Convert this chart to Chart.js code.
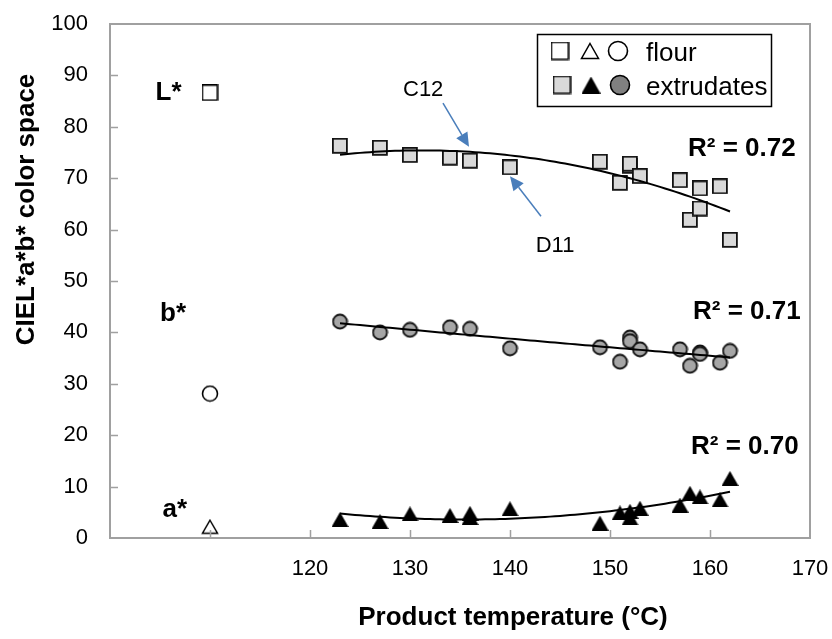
<!DOCTYPE html>
<html><head><meta charset="utf-8">
<script src="https://cdn.jsdelivr.net/npm/chart.js@4.4.1/dist/chart.umd.min.js"></script>
<style>html,body{margin:0;padding:0;background:#fff}#wrap{width:832px;height:639px;position:relative}</style>
</head><body><div id="wrap"><canvas id="c"></canvas></div>
<script>
// ---------- data ----------
const xTickValues = [100, 110, 120, 130, 140, 150, 160, 170];
const xTickLabels = ['', '', '120', '130', '140', '150', '160', '170'];
const yTickLabels = ['0','10','20','30','40','50','60','70','80','90','100'];

const flourTemp = [110];
const flourL = [86.6];
const flourB = [28.1];
const flourA = [2.2];

const tempL = [123, 127, 130, 134, 136, 140, 149, 151, 152, 152, 153, 157, 158, 159, 159, 161, 162];
const extL  = [76.3, 75.9, 74.5, 74.0, 73.4, 72.1, 73.2, 69.1, 72.4, 72.8, 70.4, 69.6, 61.9, 68.0, 64.1, 68.4, 58.0];

const tempB = [123, 127, 130, 134, 136, 140, 149, 151, 152, 152, 153, 157, 158, 159, 159, 161, 162];
const extB  = [42.1, 40.0, 40.5, 41.0, 40.7, 36.9, 37.1, 34.3, 39.0, 38.3, 36.7, 36.7, 33.5, 36.1, 35.8, 34.1, 36.4];

const tempA = [123, 127, 130, 134, 136, 136, 140, 149, 151, 152, 152, 153, 157, 158, 159, 161, 162];
const extA  = [3.6, 3.2, 4.7, 4.4, 4.8, 4.0, 5.7, 2.9, 4.9, 5.2, 3.9, 5.8, 6.4, 8.7, 8.0, 7.4, 11.6];

const r2Labels = ['R² = 0.72', 'R² = 0.71', 'R² = 0.70'];
const legendLabels = ['flour', 'extrudates'];
const xTitle = 'Product temperature (°C)';
const yTitle = 'CIEL*a*b* color space';

// ---------- helpers ----------
const FONT = "'Liberation Sans', Arial, Helvetica, sans-serif";
const AXIS_COLOR = '#a0a0a0';

function pts(xs, ys) { return xs.map((x, i) => ({x: x, y: ys[i]})); }

// least-squares 2nd-order polynomial trendline (as Excel's trendline)
function polyFit2(xs, ys) {
  const n = xs.length;
  let s = [0,0,0,0,0], t = [0,0,0];
  for (let i = 0; i < n; i++) {
    const x = xs[i], y = ys[i];
    let p = 1;
    for (let k = 0; k < 5; k++) { s[k] += p; if (k < 3) t[k] += p * y; p *= x; }
  }
  const M = [[s[0], s[1], s[2], t[0]], [s[1], s[2], s[3], t[1]], [s[2], s[3], s[4], t[2]]];
  for (let c = 0; c < 3; c++) {
    let piv = c;
    for (let r = c + 1; r < 3; r++) if (Math.abs(M[r][c]) > Math.abs(M[piv][c])) piv = r;
    [M[c], M[piv]] = [M[piv], M[c]];
    for (let r = 0; r < 3; r++) {
      if (r === c) continue;
      const f = M[r][c] / M[c][c];
      for (let k = c; k < 4; k++) M[r][k] -= f * M[c][k];
    }
  }
  return [M[0][3] / M[0][0], M[1][3] / M[1][1], M[2][3] / M[2][2]];
}
function trend(xs, ys) {
  const c = polyFit2(xs, ys);
  const lo = Math.min(...xs), hi = Math.max(...xs);
  const out = [];
  for (let x = lo; x <= hi + 1e-9; x += 0.5) out.push({x: x, y: c[0] + c[1] * x + c[2] * x * x});
  return out;
}

function mk(w, h, draw) {
  const cv = document.createElement('canvas');
  cv.width = w; cv.height = h;
  draw(cv.getContext('2d'));
  return cv;
}
function squareMarker(size, fill, stroke, lw) {
  const o = size + lw;
  return mk(Math.ceil(o), Math.ceil(o), ctx => {
    ctx.fillStyle = fill; ctx.strokeStyle = stroke; ctx.lineWidth = lw;
    ctx.beginPath(); ctx.rect(lw / 2, lw / 2, size, size); ctx.fill(); ctx.stroke();
  });
}
function circleMarker(r, fill, stroke, lw) {
  const o = Math.ceil(2 * r + lw + 1);
  return mk(o, o, ctx => {
    ctx.fillStyle = fill; ctx.strokeStyle = stroke; ctx.lineWidth = lw;
    ctx.beginPath(); ctx.arc(o / 2, o / 2, r, 0, Math.PI * 2); ctx.fill(); ctx.stroke();
  });
}
function triMarker(w, h, fill, stroke, lw) {
  const W = Math.ceil(w + lw * 2), H = Math.ceil(h + lw * 2);
  return mk(W, H, ctx => {
    ctx.fillStyle = fill; ctx.strokeStyle = stroke; ctx.lineWidth = lw; ctx.lineJoin = 'miter';
    ctx.beginPath();
    ctx.moveTo(W / 2, (H - h) / 2);
    ctx.lineTo(W / 2 + w / 2, (H + h) / 2);
    ctx.lineTo(W / 2 - w / 2, (H + h) / 2);
    ctx.closePath(); ctx.fill(); if (lw > 0) ctx.stroke();
  });
}

const mSqExt = squareMarker(14, '#d9d9d9', '#111', 1.8);
const mCiExt = circleMarker(7, '#a6a6a6', '#111', 1.8);
const mTrExt = triMarker(17, 15, '#000', '#000', 0);
const mSqFl = squareMarker(15, '#fff', '#000', 1.6);
const mCiFl = circleMarker(7.5, '#fff', '#000', 1.6);
const mTrFl = triMarker(15, 13, '#fff', '#000', 1.5);

function sc(ds, marker) {
  return Object.assign({
    pointStyle: marker, pointRadius: 8, pointHoverRadius: 8,
    showLine: false, borderColor: '#000', backgroundColor: '#000'
  }, ds);
}
function tl(data) {
  return {type: 'line', data: data, showLine: true, pointRadius: 0, borderColor: '#000',
    borderWidth: 2, tension: 0, fill: false, backgroundColor: '#000'};
}

// ---------- annotations (data units) ----------
const notes = [
  {text: 'L*', x: 104.55, y: 85.2, font: 'bold 26px ' + FONT},
  {text: 'b*', x: 105.0, y: 42.3, font: 'bold 26px ' + FONT},
  {text: 'a*', x: 105.25, y: 4.14, font: 'bold 26px ' + FONT},
  {text: r2Labels[0], x: 157.8, y: 74.3, font: 'bold 26px ' + FONT},
  {text: r2Labels[1], x: 158.3, y: 42.7, font: 'bold 26px ' + FONT},
  {text: r2Labels[2], x: 158.1, y: 16.3, font: 'bold 26px ' + FONT},
  {text: 'C12', x: 129.3, y: 85.9, font: '22px ' + FONT},
  {text: 'D11', x: 142.57, y: 55.6, font: '22px ' + FONT}
];
const arrows = [
  {x0: 133.3, y0: 84.6, x1: 135.9, y1: 76.1},
  {x0: 143.1, y0: 62.6, x1: 140.0, y1: 70.4}
];

const deco = {
  id: 'deco',
  afterDatasetsDraw(chart) {
    const {ctx, chartArea: a, scales: {x, y}} = chart;
    ctx.save();
    // plot frame top/right
    ctx.strokeStyle = AXIS_COLOR; ctx.lineWidth = 2;
    ctx.beginPath();
    ctx.moveTo(a.left, a.top); ctx.lineTo(a.right, a.top); ctx.lineTo(a.right, a.bottom);
    ctx.stroke();
    // inward ticks
    ctx.lineWidth = 1.5;
    ctx.beginPath();
    xTickValues.forEach(v => {
      const px = Math.round(x.getPixelForValue(v)) + 0.5;
      if (v === x.min || v === x.max) return;
      ctx.moveTo(px, a.bottom); ctx.lineTo(px, a.bottom - 8);
    });
    yTickLabels.forEach(t => {
      const v = +t;
      if (v === y.min || v === y.max) return;
      const py = Math.round(y.getPixelForValue(v)) + 0.5;
      ctx.moveTo(a.left, py); ctx.lineTo(a.left + 8, py);
    });
    ctx.stroke();
    ctx.restore();
  },
  afterDraw(chart) {
    const {ctx, chartArea: a, scales: {x, y}} = chart;
    ctx.save();
    // arrows
    ctx.strokeStyle = '#4a7ebb'; ctx.fillStyle = '#4a7ebb'; ctx.lineWidth = 1.5;
    arrows.forEach(ar => {
      const x0 = x.getPixelForValue(ar.x0), y0 = y.getPixelForValue(ar.y0);
      const x1 = x.getPixelForValue(ar.x1), y1 = y.getPixelForValue(ar.y1);
      const ang = Math.atan2(y1 - y0, x1 - x0);
      const L = 14, W = 6.5;
      const bx = x1 - L * Math.cos(ang), by = y1 - L * Math.sin(ang);
      ctx.beginPath(); ctx.moveTo(x0, y0); ctx.lineTo(bx, by); ctx.stroke();
      ctx.beginPath();
      ctx.moveTo(x1, y1);
      ctx.lineTo(bx + W * Math.sin(ang), by - W * Math.cos(ang));
      ctx.lineTo(bx - W * Math.sin(ang), by + W * Math.cos(ang));
      ctx.closePath(); ctx.fill();
    });
    // text notes
    ctx.fillStyle = '#000'; ctx.textAlign = 'left'; ctx.textBaseline = 'alphabetic';
    notes.forEach(n => {
      ctx.font = n.font;
      ctx.fillText(n.text, x.getPixelForValue(n.x), y.getPixelForValue(n.y));
    });
    // axis titles
    ctx.font = 'bold 26px ' + FONT;
    ctx.textAlign = 'center';
    ctx.fillText(xTitle, (a.left + a.right) / 2 + 53, a.bottom + 87);
    ctx.save();
    ctx.translate(a.left - 76.5, (a.top + a.bottom) / 2 - 71.5);
    ctx.rotate(-Math.PI / 2);
    ctx.fillText(yTitle, 0, 0);
    ctx.restore();
    // legend
    const lx = a.left + 427, ly = a.top + 10, lw = 234, lh = 72;
    ctx.strokeStyle = '#000'; ctx.lineWidth = 1.5;
    ctx.strokeRect(lx + 0.5, ly + 0.5, lw, lh);
    const rows = [
      {cy: ly + 17, marks: [
        squareMarker(17, '#fff', '#000', 1.6), triMarker(17, 15, '#fff', '#000', 1.5), circleMarker(9.5, '#fff', '#000', 1.6)
      ], xs: [lx + 23, lx + 53, lx + 81]},
      {cy: ly + 51, marks: [
        squareMarker(17, '#d9d9d9', '#000', 1.6), triMarker(19, 17, '#000', '#000', 0), circleMarker(9.5, '#808080', '#000', 1.6)
      ], xs: [lx + 25, lx + 54, lx + 83]}
    ];
    rows.forEach(r => r.marks.forEach((m, i) => ctx.drawImage(m, r.xs[i] - m.width / 2, r.cy - m.height / 2)));
    ctx.font = '26px ' + FONT; ctx.textAlign = 'left'; ctx.fillStyle = '#000';
    ctx.fillText(legendLabels[0], lx + 109, ly + 27);
    ctx.fillText(legendLabels[1], lx + 109, ly + 61);
    ctx.restore();
  }
};

function noPad(s) { s.paddingTop = 0; s.paddingBottom = 0; s.paddingLeft = 0; s.paddingRight = 0; }

new Chart(document.getElementById('c'), {
  type: 'scatter',
  data: {
    datasets: [
      tl(trend(tempL, extL)),
      tl(trend(tempB, extB)),
      tl(trend(tempA, extA)),
      sc({label: 'L* extrudates', data: pts(tempL, extL)}, mSqExt),
      sc({label: 'b* extrudates', data: pts(tempB, extB)}, mCiExt),
      sc({label: 'a* extrudates', data: pts(tempA, extA)}, mTrExt),
      sc({label: 'L* flour', data: pts(flourTemp, flourL)}, mSqFl),
      sc({label: 'b* flour', data: pts(flourTemp, flourB)}, mCiFl),
      sc({label: 'a* flour', data: pts(flourTemp, flourA)}, mTrFl)
    ]
  },
  options: {
    responsive: true, maintainAspectRatio: false, animation: false,
    layout: {padding: {top: 24, right: 22, left: 0, bottom: 0}},
    plugins: {legend: {display: false}, tooltip: {enabled: false}},
    events: [],
    scales: {
      x: {
        type: 'linear', min: 100, max: 170,
        afterFit: s => { s.height = 101; noPad(s); },
        afterBuildTicks: s => { s.ticks = xTickValues.map(v => ({value: v})); },
        ticks: {autoSkip: false, maxRotation: 0, padding: 18, color: '#000',
          font: {family: FONT, size: 22},
          callback: (v) => { const i = xTickValues.indexOf(v); return i >= 0 ? xTickLabels[i] : ''; }},
        grid: {display: true, drawOnChartArea: false, drawTicks: false},
        border: {display: true, color: AXIS_COLOR, width: 2}
      },
      y: {
        type: 'linear', min: 0, max: 100,
        afterFit: s => { s.width = 110; noPad(s); },
        afterBuildTicks: s => { s.ticks = yTickLabels.map(t => ({value: +t})); },
        ticks: {autoSkip: false, padding: 22, color: '#000',
          font: {family: FONT, size: 22},
          callback: (v) => { const i = yTickLabels.indexOf(String(v)); return i >= 0 ? yTickLabels[i] : ''; }},
        grid: {display: true, drawOnChartArea: false, drawTicks: false},
        border: {display: true, color: AXIS_COLOR, width: 2}
      }
    }
  },
  plugins: [deco]
});
</script>
</body></html>
